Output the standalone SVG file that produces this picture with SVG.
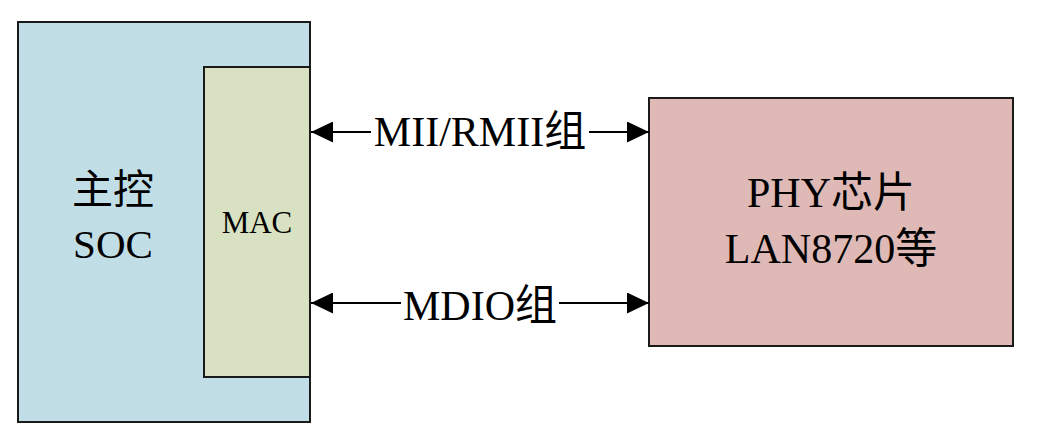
<svg xmlns="http://www.w3.org/2000/svg" width="1042" height="428" viewBox="0 0 1042 428">
<defs>
<marker id="ah" markerUnits="userSpaceOnUse" markerWidth="22" markerHeight="21" refX="22" refY="10.5" orient="auto">
<path d="M0,0 L22,10.5 L0,21 z" fill="#000"/>
</marker>
<style>
.box{stroke:#1a1a1a;stroke-width:2}
.t{font-family:"Liberation Serif","Noto Sans CJK SC",serif;fill:#000;text-anchor:middle}
.ln{stroke:#000;stroke-width:2;fill:none;marker-end:url(#ah)}
</style>
</defs>
<rect width="1042" height="428" fill="#fff"/>
<g id="soc">
<rect class="box" x="18" y="22" width="292" height="400" fill="#C1DDE6"/>
<text class="t" x="113" y="204" font-size="41">主控</text>
<text class="t" x="113" y="258" font-size="41">SOC</text>
</g>
<g id="mac">
<rect class="box" x="204" y="67" width="106" height="310" fill="#D8E2C2"/>
<text class="t" x="257" y="233" font-size="31">MAC</text>
</g>
<g id="phy">
<rect class="box" x="649" y="98" width="364" height="248" fill="#DEB9B6"/>
<text class="t" x="831" y="207" font-size="42">PHY芯片</text>
<text class="t" x="831" y="263" font-size="42">LAN8720等</text>
</g>
<g id="connectors">
<line class="ln" x1="371" y1="132" x2="311" y2="132"/>
<line class="ln" x1="589" y1="132" x2="649" y2="132"/>
<text class="t" x="480" y="146" font-size="42">MII/RMII组</text>
<line class="ln" x1="401" y1="303" x2="311" y2="303"/>
<line class="ln" x1="559" y1="303" x2="649" y2="303"/>
<text class="t" x="480" y="320" font-size="42">MDIO组</text>
</g>
</svg>
